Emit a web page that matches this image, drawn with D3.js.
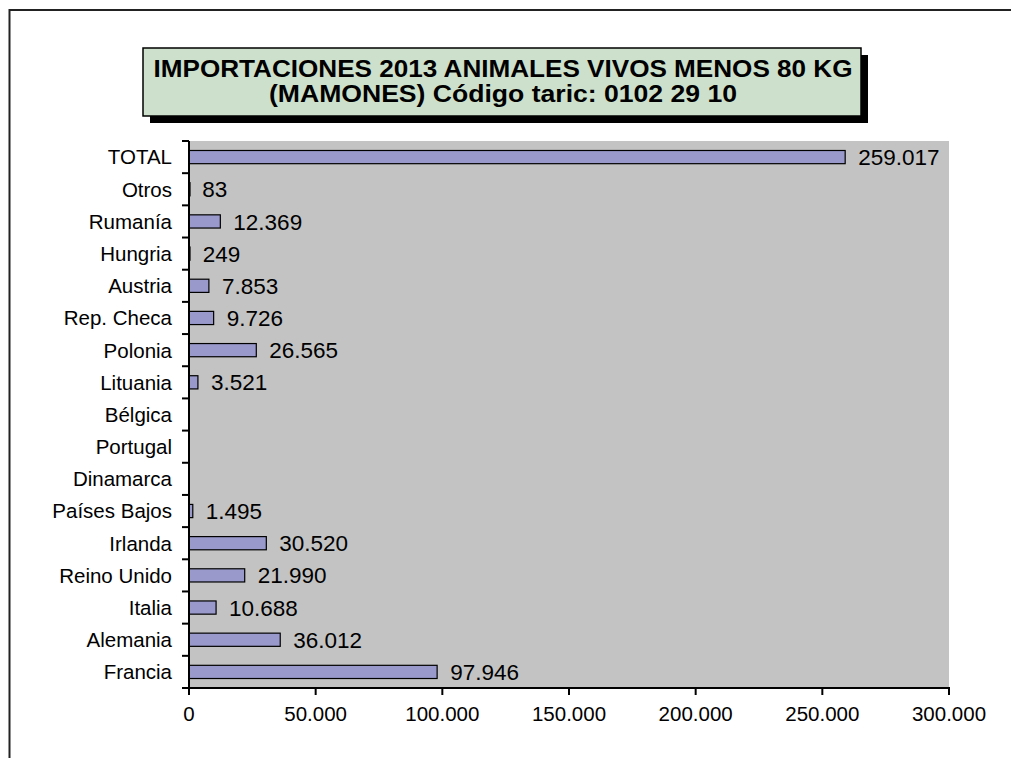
<!DOCTYPE html>
<html>
<head>
<meta charset="utf-8">
<script src="https://cdn.jsdelivr.net/npm/d3@7"></script>
<style>
  html, body { margin: 0; padding: 0; background: #fff; }
  svg { display: block; font-family: "Liberation Sans", Arial, sans-serif; }
</style>
</head>
<body>
<svg id="chart" width="1011" height="758"></svg>
<script>
const categories = ["TOTAL", "Otros", "Rumanía", "Hungria", "Austria", "Rep. Checa", "Polonia", "Lituania", "Bélgica", "Portugal", "Dinamarca", "Países Bajos", "Irlanda", "Reino Unido", "Italia", "Alemania", "Francia"];
const values = [259017, 83, 12369, 249, 7853, 9726, 26565, 3521, null, null, null, 1495, 30520, 21990, 10688, 36012, 97946];
const xTicks = [0, 50000, 100000, 150000, 200000, 250000, 300000];
const titleLines = ["IMPORTACIONES 2013 ANIMALES VIVOS MENOS 80 KG", "(MAMONES) Código taric: 0102 29 10"];

const locale = d3.formatLocale({decimal: ",", thousands: ".", grouping: [3], currency: ["", "€"]});
const fmt = locale.format(",.0f");

const svg = d3.select("#chart");

// outer frame (right/bottom edges fall outside the picture)
svg.append("rect").attr("x", 9.5).attr("y", 10).attr("width", 1100).attr("height", 900)
  .attr("fill", "none").attr("stroke", "#222").attr("stroke-width", 2);

const plot = {left: 189, right: 949, top: 141, bottom: 688};

const x = d3.scaleLinear().domain([0, 300000]).range([plot.left, plot.right]);
const y = d3.scaleBand().domain(categories).range([plot.top, plot.bottom]);

svg.append("rect").attr("x", plot.left).attr("y", plot.top)
  .attr("width", plot.right - plot.left).attr("height", plot.bottom - plot.top)
  .attr("fill", "#c3c3c3");

const data = categories.map((c, i) => ({c, v: values[i]}));
const barH = y.bandwidth() * 0.41;

svg.append("g").selectAll("rect").data(data.filter(d => d.v != null)).join("rect")
  .attr("x", x(0))
  .attr("y", d => y(d.c) + (y.bandwidth() - barH) / 2)
  .attr("width", d => Math.max(x(d.v) - x(0), 1))
  .attr("height", barH)
  .attr("fill", "#9999cc")
  .attr("stroke", "#000").attr("stroke-width", 1.2);

svg.append("g").selectAll("text").data(data.filter(d => d.v != null)).join("text")
  .attr("x", d => x(d.v) + 13)
  .attr("y", d => y(d.c) + y.bandwidth() / 2)
  .attr("dy", "0.36em")
  .attr("font-size", 22.5)
  .attr("fill", "#000")
  .text(d => fmt(d.v));

// y axis
const yAxis = svg.append("g").attr("transform", `translate(${plot.left},0)`);
yAxis.append("line").attr("x1", 0).attr("x2", 0).attr("y1", plot.top).attr("y2", plot.bottom)
  .attr("stroke", "#000").attr("stroke-width", 2);
const bounds = categories.map(c => y(c)).concat([plot.bottom]);
yAxis.selectAll("line.tick").data(bounds).join("line").attr("class", "tick")
  .attr("x1", -7).attr("x2", 0).attr("y1", d => d).attr("y2", d => d)
  .attr("stroke", "#000").attr("stroke-width", 2);
yAxis.selectAll("text").data(categories).join("text")
  .attr("x", -17)
  .attr("y", d => y(d) + y.bandwidth() / 2)
  .attr("dy", "0.36em")
  .attr("text-anchor", "end")
  .attr("font-size", 20.5)
  .text(d => d);

// x axis
const xAxis = svg.append("g").attr("transform", `translate(0,${plot.bottom})`);
xAxis.append("line").attr("x1", plot.left - 1).attr("x2", plot.right + 1).attr("y1", 0).attr("y2", 0)
  .attr("stroke", "#000").attr("stroke-width", 2);
xAxis.selectAll("line.tick").data(xTicks).join("line").attr("class", "tick")
  .attr("x1", d => x(d)).attr("x2", d => x(d)).attr("y1", 0).attr("y2", 7)
  .attr("stroke", "#000").attr("stroke-width", 2);
xAxis.selectAll("text").data(xTicks).join("text")
  .attr("x", d => x(d)).attr("y", 33)
  .attr("text-anchor", "middle")
  .attr("font-size", 20.5)
  .text(d => fmt(d));

// title box with shadow
const box = {x: 143, y: 48, w: 718, h: 68};
svg.append("rect").attr("x", box.x + 7).attr("y", box.y + 7).attr("width", box.w).attr("height", box.h)
  .attr("fill", "#000");
svg.append("rect").attr("x", box.x).attr("y", box.y).attr("width", box.w).attr("height", box.h)
  .attr("fill", "#cde0cb").attr("stroke", "#000").attr("stroke-width", 1.5);
const tl = [{t: titleLines[0], y: 77, len: 699}, {t: titleLines[1], y: 102, len: 468}];
svg.selectAll("text.title").data(tl).join("text").attr("class", "title")
  .attr("x", box.x + box.w / 2 + 1).attr("y", d => d.y)
  .attr("text-anchor", "middle")
  .attr("font-size", 24).attr("font-weight", "bold")
  .attr("textLength", d => d.len).attr("lengthAdjust", "spacingAndGlyphs")
  .text(d => d.t);
</script>
</body>
</html>
